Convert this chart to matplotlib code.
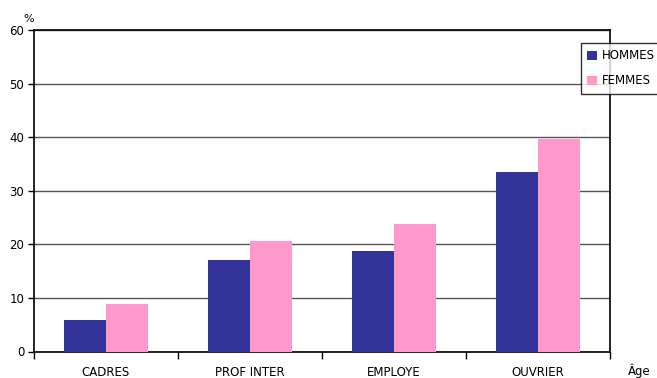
import matplotlib
matplotlib.use("Agg")
import matplotlib.pyplot as plt
import numpy as np

categories = ["CADRES", "PROF INTER", "EMPLOYE", "OUVRIER"]
hommes = [5.9, 17.1, 18.7, 33.5]
femmes = [8.9, 20.7, 23.8, 39.7]
series_names = ["HOMMES", "FEMMES"]
y_ticks = [0, 10, 20, 30, 40, 50, 60]

plt.rcParams["font.family"] = ["DejaVu Sans"]

fig = plt.figure(figsize=(6.57, 3.78), dpi=100)
ax = fig.add_axes([34 / 657, 1 - 351.5 / 378, 576 / 657, 321.5 / 378])

x = np.arange(len(categories))
w = 0.29
ax.bar(x - w / 2, hommes, width=w, color="#333399", label=series_names[0], zorder=3)
ax.bar(x + w / 2, femmes, width=w, color="#FF99CC", label=series_names[1], zorder=3)

ax.set_xlim(-0.5, len(categories) - 0.5)
ax.set_ylim(0, 60)
ax.set_yticks(y_ticks)
ax.tick_params(axis="y", labelsize=8.5, length=4, width=1, direction="out", pad=3)
ax.yaxis.grid(True, color="#555555", linewidth=1, zorder=0)

# category labels centred, tick marks on group boundaries
ax.set_xticks(x)
ax.set_xticklabels(categories, fontsize=8.5)
ax.tick_params(axis="x", which="major", length=0, pad=10.5)
ax.set_xticks(np.arange(-0.5, len(categories)), minor=True)
ax.tick_params(axis="x", which="minor", length=5, width=1, direction="out")

for s in ax.spines.values():
    s.set_color("black")
    s.set_linewidth(1.2)

fig.text(23 / 657, 1 - 19 / 378, "%", fontsize=8, ha="left", va="center")
fig.text(639 / 657, 1 - 371 / 378, "Âge", fontsize=8.5, ha="center", va="center")

leg = fig.legend(loc="upper left", bbox_to_anchor=(581 / 657, 1 - 43 / 378),
                 fontsize=8.5, frameon=True, fancybox=False, borderpad=0.55,
                 handlelength=0.8, handleheight=0.8, handletextpad=0.4,
                 labelspacing=1.0, borderaxespad=0)
leg.get_frame().set_edgecolor("black")
leg.get_frame().set_linewidth(1)

fig.savefig("out.png", dpi=100)
